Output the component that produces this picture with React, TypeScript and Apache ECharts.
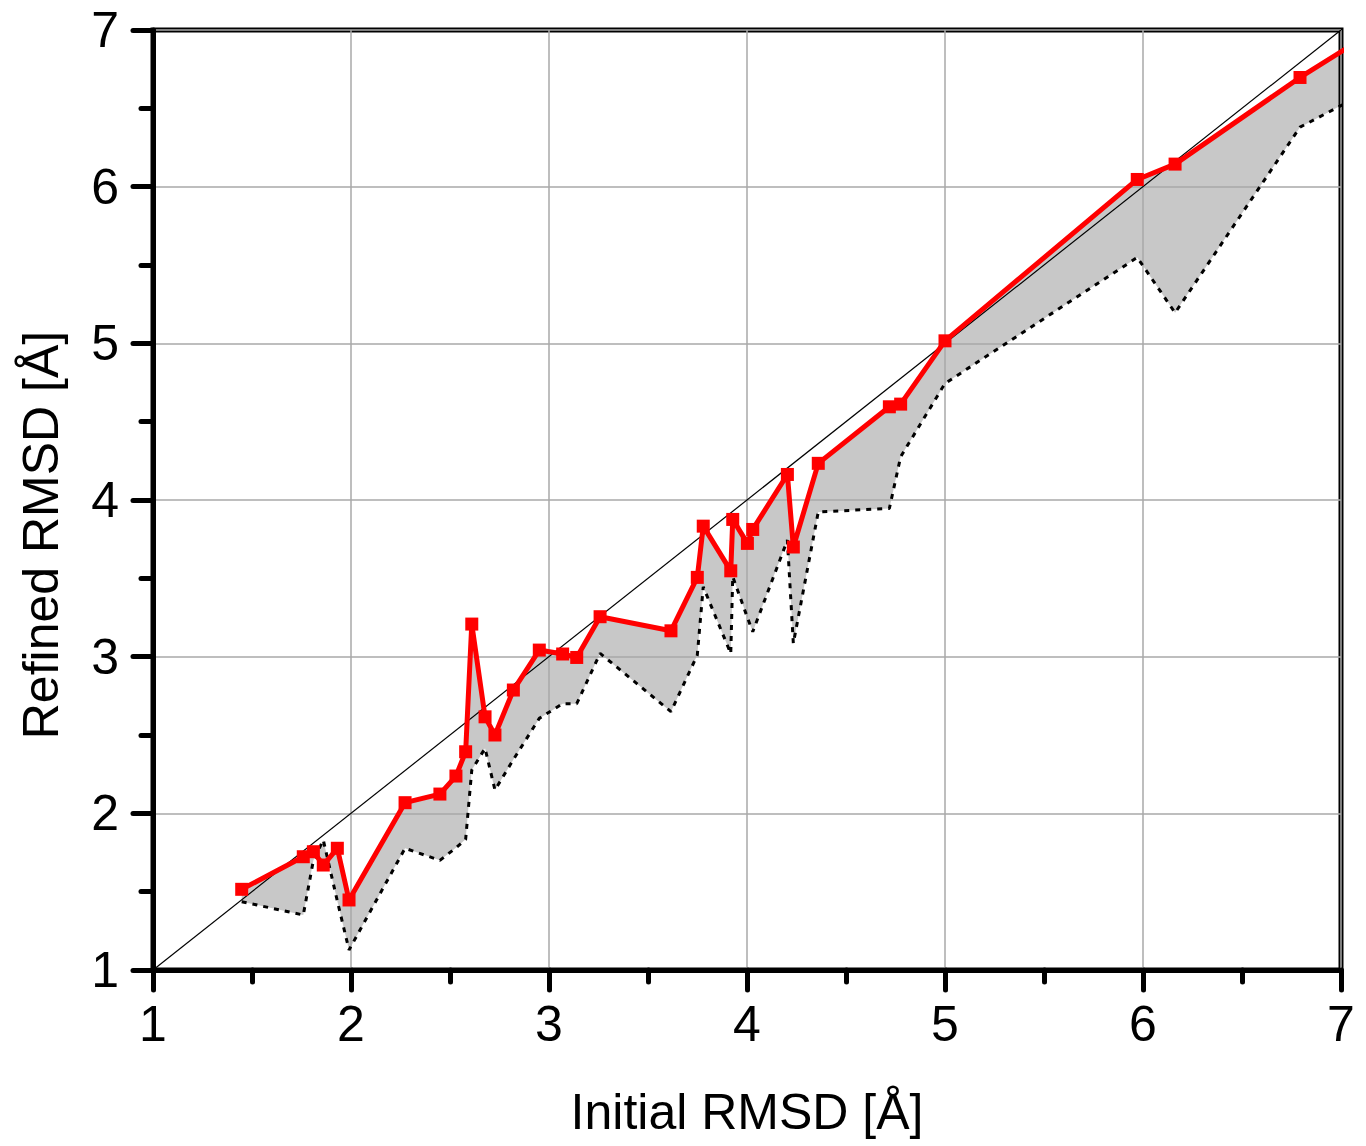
import React, { useEffect, useRef } from "react";
import * as echarts from "echarts";

// Initial RMSD (x), refined RMSD (red line), lower bound (dashed line)
const xInitial = [1.448, 1.759, 1.81, 1.86, 1.931, 1.99, 2.273, 2.449, 2.53, 2.579, 2.61, 2.677, 2.727, 2.82, 2.951, 3.069, 3.14, 3.258, 3.616, 3.749, 3.779, 3.918, 3.928, 4.002, 4.029, 4.204, 4.234, 4.36, 4.719, 4.776, 5.0, 5.971, 6.162, 6.793, 7.2];
const yRefined = [1.515, 1.723, 1.755, 1.67, 1.777, 1.447, 2.068, 2.123, 2.238, 2.393, 3.208, 2.616, 2.5, 2.787, 3.042, 3.017, 2.995, 3.255, 3.165, 3.506, 3.833, 3.548, 3.876, 3.723, 3.812, 4.163, 3.7, 4.234, 4.595, 4.612, 5.016, 6.046, 6.144, 6.697, 7.02];
const yLower = [1.436, 1.351, 1.7, 1.83, 1.44, 1.128, 1.777, 1.7, 1.78, 1.834, 2.276, 2.415, 2.149, 2.343, 2.606, 2.7, 2.7, 3.021, 2.649, 3.01, 3.446, 3.02, 3.51, 3.25, 3.159, 3.744, 3.085, 3.924, 3.946, 4.276, 4.744, 5.548, 5.195, 6.38, 6.65];
const diagonal = [1, 7];
const axisMin = 1;
const axisMax = 7;
const axisInterval = 1;

const FONT = "'Liberation Sans', Arial, sans-serif";
const FS = 50;

export default function App() {
  const ref = useRef<HTMLDivElement>(null);
  useEffect(() => {
    document.body.style.margin = "0";
    if (!ref.current) return;
    const chart = echarts.init(ref.current, null, { renderer: "svg" });
    const commonAxis = {
      type: "value" as const,
      min: axisMin,
      max: axisMax,
      interval: axisInterval,
      nameLocation: "middle" as const,
      nameTextStyle: { fontSize: FS, fontFamily: FONT, color: "#000" },
      axisLine: { onZero: false, lineStyle: { color: "#000", width: 5 } },
      axisTick: { length: 20, lineStyle: { color: "#000", width: 5, cap: "round" } },
      minorTick: { show: true, splitNumber: 2, length: 12, lineStyle: { color: "#000", width: 5, cap: "round" } },
      splitLine: { show: true, lineStyle: { color: "#a8a8a8", width: 1.5 } },
    };
    chart.setOption({
      animation: false,
      backgroundColor: "#fff",
      textStyle: { fontFamily: FONT },
      grid: { left: 153, top: 30, right: 25, bottom: 176, show: true, borderColor: "#000", borderWidth: 5 },
      xAxis: {
        ...commonAxis,
        name: "Initial RMSD [Å]",
        nameGap: 117,
        axisLabel: { fontSize: FS, margin: 29, color: "#000", fontFamily: FONT },
      },
      yAxis: {
        ...commonAxis,
        name: "Refined RMSD [Å]",
        nameGap: 87,
        nameRotate: 90,
        nameTextStyle: { fontSize: FS, fontFamily: FONT, color: "#000", padding: [0, 70, 0, 0] },
        axisLabel: { fontSize: FS, margin: 34, color: "#000", fontFamily: FONT },
      },
      series: [
        {
          type: "custom",
          z: -1,
          silent: true,
          data: [[xInitial[0], yRefined[0]]],
          renderItem: (params: any, api: any) => {
            const upper = xInitial.map((x, i) => api.coord([x, yRefined[i]]));
            const lower = xInitial.map((x, i) => api.coord([x, yLower[i]])).reverse();
            const cs = params.coordSys;
            return {
              type: "polygon",
              shape: { points: upper.concat(lower) },
              style: { fill: "#c8c8c8" },
              clipPath: { type: "rect", shape: { x: cs.x, y: cs.y, width: cs.width, height: cs.height } },
            };
          },
        },
        {
          type: "line",
          silent: true,
          data: [[diagonal[0], diagonal[0]], [diagonal[1], diagonal[1]]],
          showSymbol: false,
          lineStyle: { color: "#000", width: 1.2 },
          z: 3,
        },
        {
          type: "line",
          silent: true,
          data: xInitial.map((x, i) => [x, yLower[i]]),
          showSymbol: false,
          lineStyle: { color: "#000", width: 3, type: [5, 6] },
          z: 3,
        },
        {
          type: "line",
          silent: true,
          data: xInitial.map((x, i) => [x, yRefined[i]]),
          symbol: "rect",
          symbolSize: 13,
          itemStyle: { color: "#ff0000" },
          lineStyle: { color: "#ff0000", width: 5 },
          z: 4,
        },
      ],
    });
    return () => chart.dispose();
  }, []);
  return <div ref={ref} style={{ width: 1366, height: 1146 }} />;
}
